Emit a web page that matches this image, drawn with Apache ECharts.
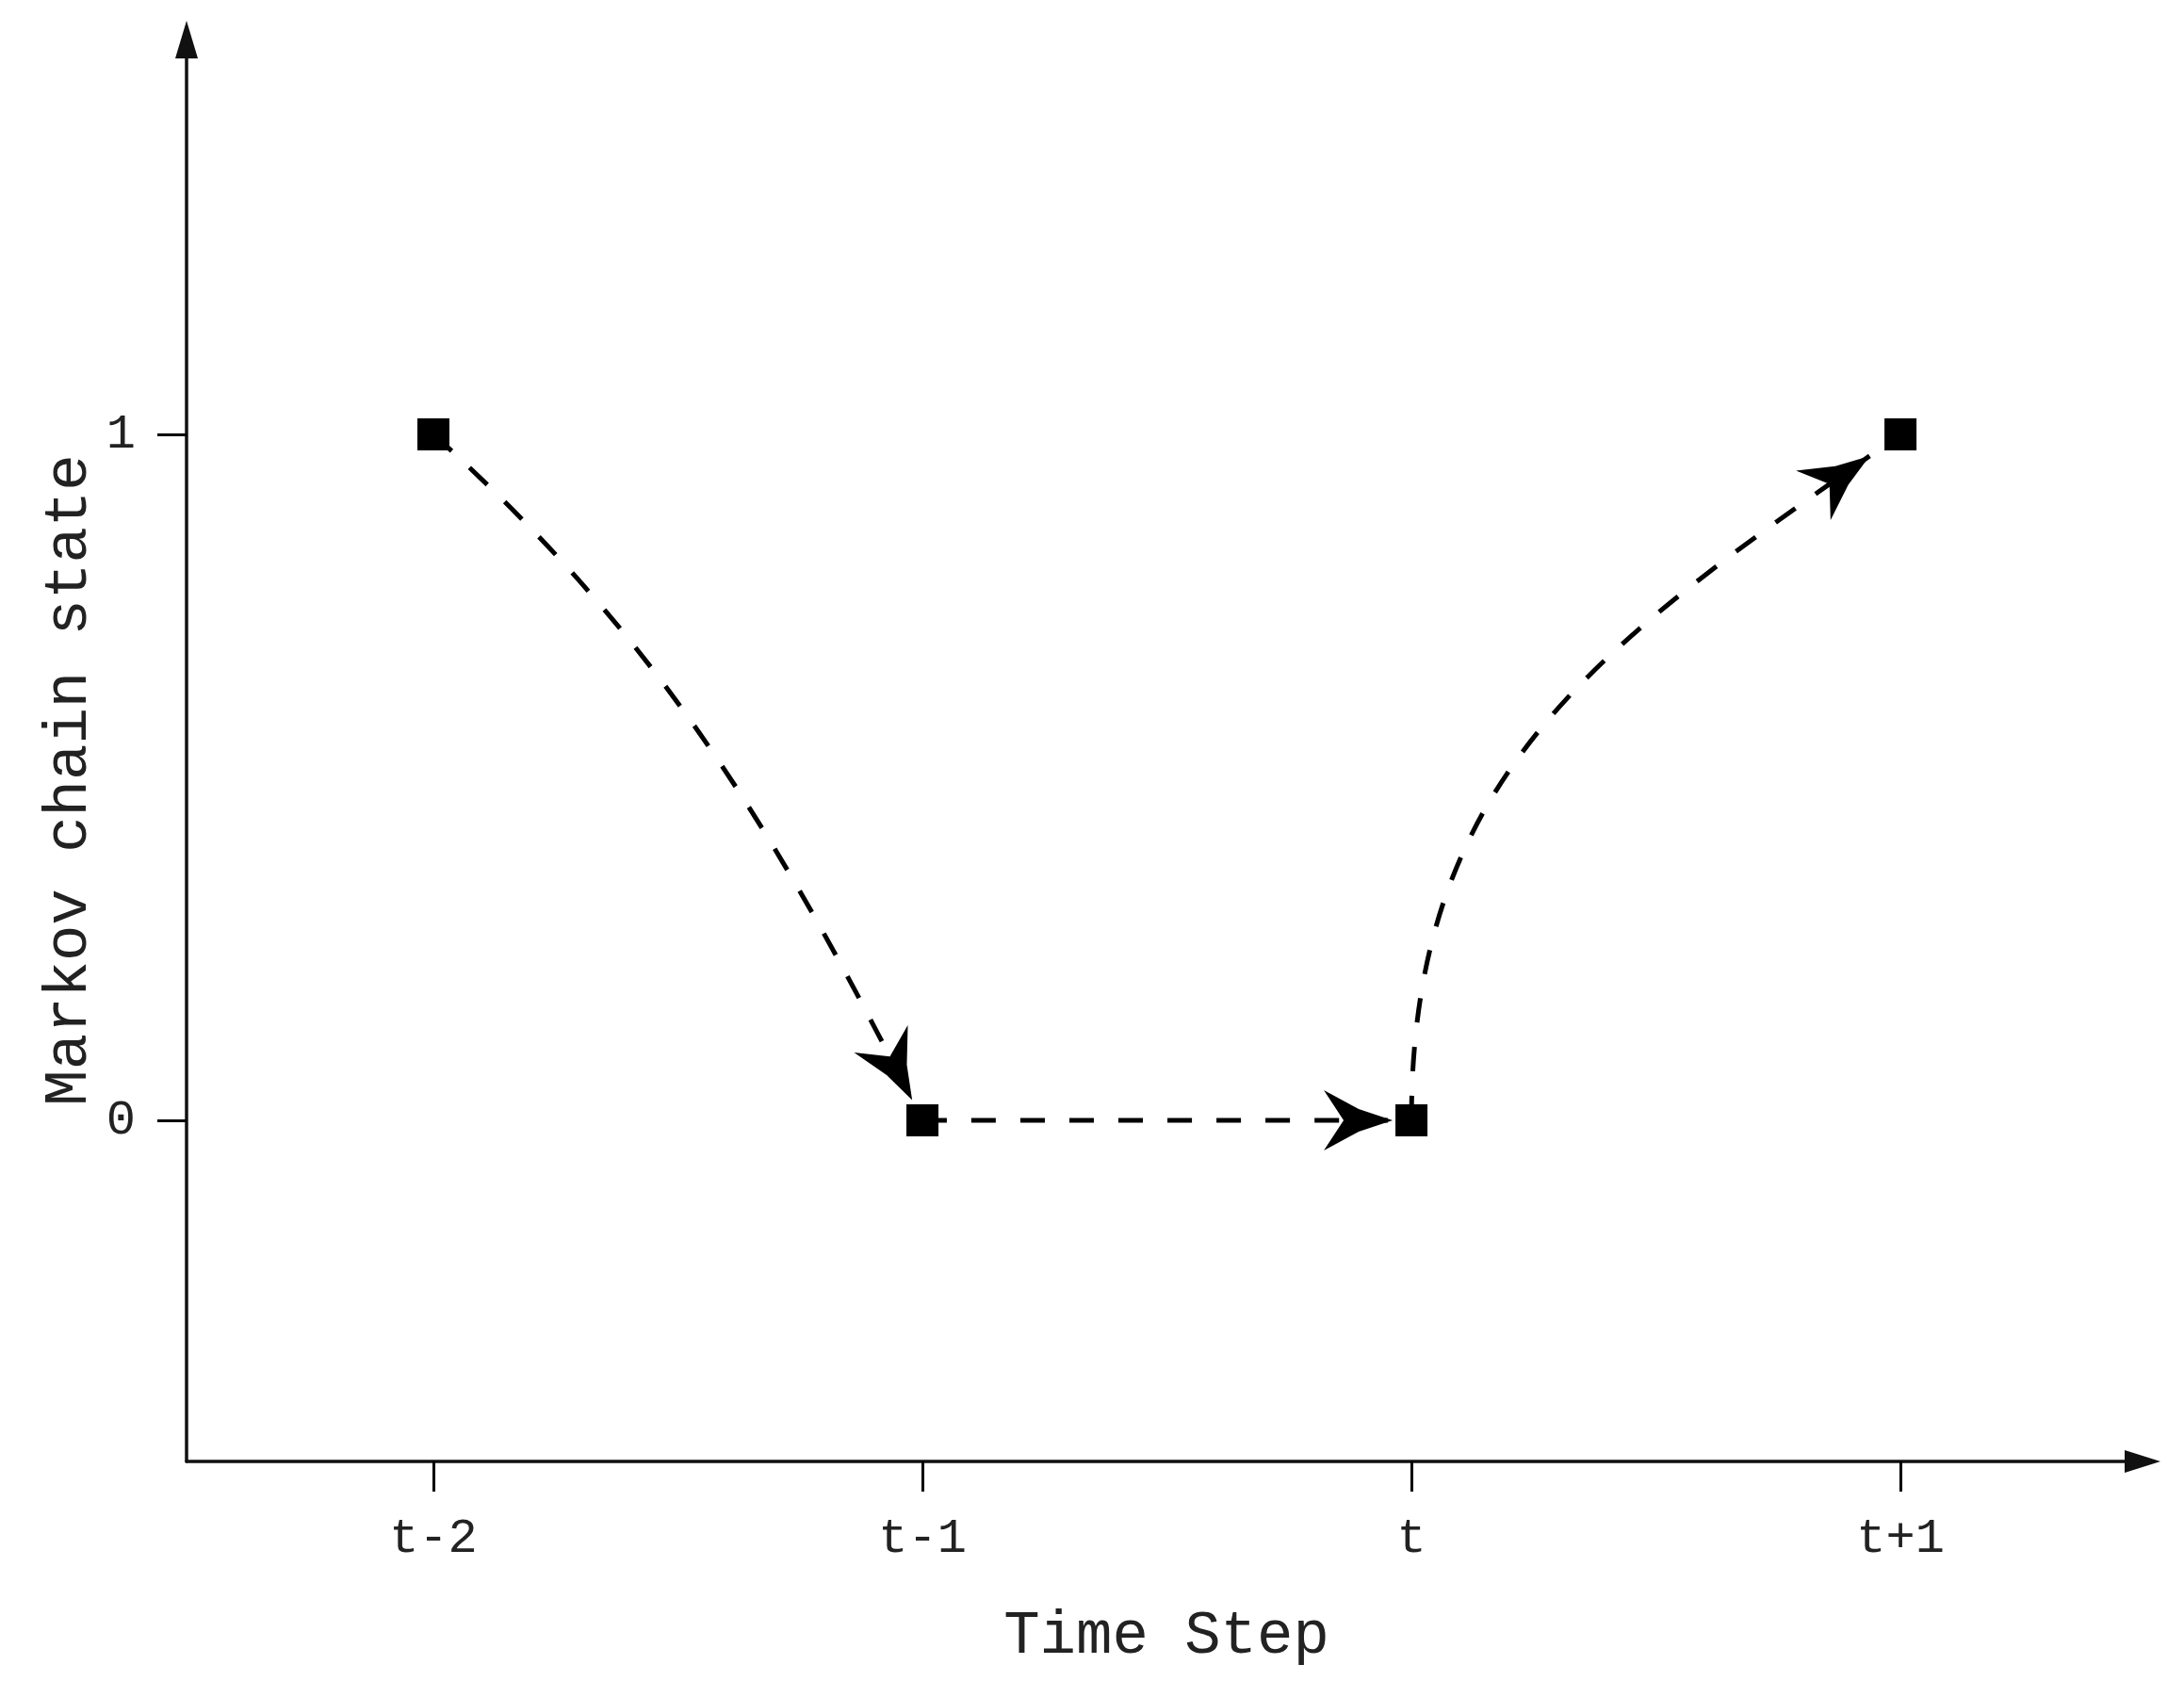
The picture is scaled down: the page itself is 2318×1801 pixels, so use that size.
<!DOCTYPE html>
<html>
<head>
<meta charset="utf-8">
<script src="https://cdn.jsdelivr.net/npm/echarts@6/dist/echarts.min.js"></script>
<style>
  html, body { margin: 0; padding: 0; background: #fff; }
  #chart { width: 2318px; height: 1801px; }
</style>
</head>
<body>
<div id="chart"></div>
<script>
// time steps along the x axis and the chain state at each step
var timeLabels = ['t-2', 't-1', 't', 't+1'];
var chainStates = [1, 0, 0, 1];
var stateTicks = [0, 1];
// transitions drawn as arrows: [fromStep, toStep]
var transitions = [[0, 1], [1, 2], [2, 3]];

// curve shape for each transition (screen angles in degrees)
var curveShape = [
    { startAngle: 42, endAngle: 63, bend: 0.37, gap: 24 },
    { startAngle: 0, endAngle: 0, bend: 0.33, gap: 20 },
    { startAngle: -90, endAngle: -35, bend: 0.42, gap: 40 }
];

var stepIdx = timeLabels.map(function (_, i) { return i; });
var FONT = '"Liberation Mono", "DejaVu Sans Mono", monospace';

var markerData = stepIdx.map(function (i) { return [i, chainStates[i]]; });
var arrowData = transitions.map(function (t) {
    return [t[0], chainStates[t[0]], t[1], chainStates[t[1]]];
});

function renderArrow(params, api) {
    var s = curveShape[params.dataIndex];
    var rad = Math.PI / 180;
    var p0 = api.coord([api.value(0), api.value(1)]);
    var c1 = api.coord([api.value(2), api.value(3)]);
    var u = [Math.cos(s.startAngle * rad), Math.sin(s.startAngle * rad)];
    var v = [Math.cos(s.endAngle * rad), Math.sin(s.endAngle * rad)];
    var p3 = [c1[0] - s.gap * v[0], c1[1] - s.gap * v[1]];
    var len = Math.hypot(p3[0] - p0[0], p3[1] - p0[1]);
    var a = s.bend * len;
    var p1 = [p0[0] + a * u[0], p0[1] + a * u[1]];
    var p2 = [p3[0] - a * v[0], p3[1] - a * v[1]];

    // stealth arrow head, tip at p3
    function pt(dx, dy) {
        return [p3[0] + dx * v[0] - dy * v[1], p3[1] + dx * v[1] + dy * v[0]];
    }
    var head = [pt(0, 0), pt(-36, -12), pt(-73, -32), pt(-52, 0), pt(-73, 32), pt(-36, 12)];

    return {
        type: 'group',
        children: [
            {
                type: 'bezierCurve',
                shape: {
                    x1: p0[0], y1: p0[1], x2: p3[0], y2: p3[1],
                    cpx1: p1[0], cpy1: p1[1], cpx2: p2[0], cpy2: p2[1]
                },
                style: { stroke: '#000', fill: null, lineWidth: 5, lineDash: [26, 26] }
            },
            {
                type: 'polygon',
                shape: { points: head },
                style: { fill: '#000', stroke: null }
            }
        ]
    };
}

var option = {
    backgroundColor: '#fff',
    animation: false,
    grid: { left: 198, right: 44, top: 42, bottom: 250 },
    xAxis: {
        type: 'value',
        min: -0.5048,
        max: 3.495,
        splitLine: { show: false },
        axisLine: {
            onZero: false,
            symbol: ['none', 'triangle'],
            symbolSize: [24, 38],
            lineStyle: { color: '#111', width: 3.5 }
        },
        axisTick: {
            customValues: stepIdx,
            length: 32,
            lineStyle: { color: '#000', width: 3 }
        },
        axisLabel: {
            customValues: stepIdx,
            formatter: function (v) { return timeLabels[Math.round(v)]; },
            margin: 56,
            color: '#222',
            fontFamily: FONT,
            fontSize: 52
        }
    },
    yAxis: {
        type: 'value',
        min: -0.4973,
        max: 1.5755,
        splitLine: { show: false },
        axisLine: {
            onZero: false,
            symbol: ['none', 'triangle'],
            symbolSize: [24, 40],
            lineStyle: { color: '#111', width: 3.5 }
        },
        axisTick: {
            customValues: stateTicks,
            length: 31,
            lineStyle: { color: '#000', width: 3 }
        },
        axisLabel: {
            customValues: stateTicks,
            margin: 54,
            color: '#222',
            fontFamily: FONT,
            fontSize: 52
        }
    },
    graphic: [
        {
            type: 'text',
            x: 74, y: 828,
            rotation: Math.PI / 2,
            style: {
                text: 'Markov chain state',
                fill: '#222',
                font: '64px ' + FONT,
                align: 'center',
                verticalAlign: 'middle'
            }
        },
        {
            type: 'text',
            x: 1238, y: 1737,
            style: {
                text: 'Time Step',
                fill: '#222',
                font: '64px ' + FONT,
                align: 'center',
                verticalAlign: 'middle'
            }
        }
    ],
    series: [
        {
            type: 'custom',
            renderItem: renderArrow,
            data: arrowData,
            encode: { x: [0, 2], y: [1, 3] },
            z: 2
        },
        {
            type: 'scatter',
            data: markerData,
            symbol: 'rect',
            symbolSize: 34,
            itemStyle: { color: '#000', opacity: 1 },
            z: 5
        }
    ]
};

var chart = echarts.init(document.getElementById('chart'));
chart.setOption(option);
</script>
</body>
</html>
